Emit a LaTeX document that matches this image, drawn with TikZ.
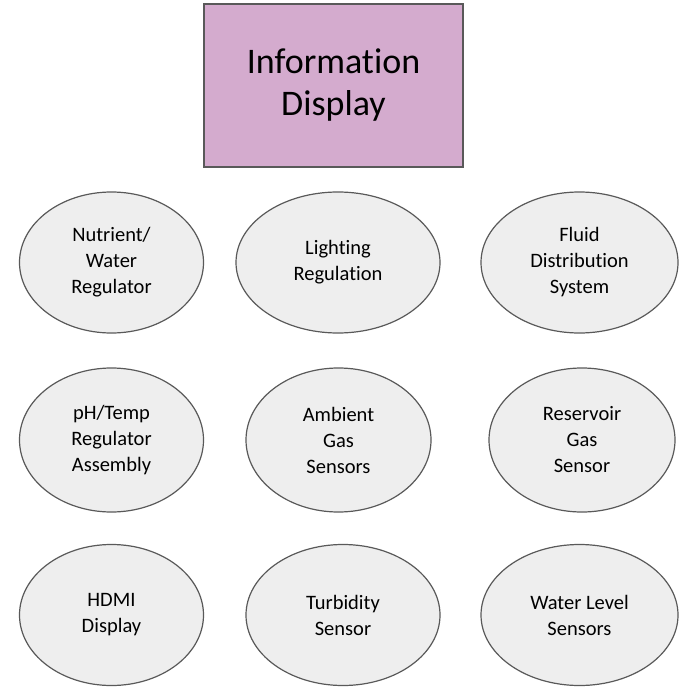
\documentclass[tikz,border=0pt]{standalone}
\usepackage{fontspec}
\setmainfont{Carlito}[Ligatures=NoCommon]
\usepackage{tikz}
\usetikzlibrary{shapes.geometric,positioning}
\definecolor{boxpink}{HTML}{D4ABCE}
\definecolor{unitgray}{HTML}{EEEEEE}
\definecolor{edgegray}{HTML}{595959}

\begin{document}
\begin{tikzpicture}[
  x=1pt, y=-1pt,
  titlebox/.style={draw=edgegray, fill=boxpink, line width=1.3pt,
      align=center, inner sep=0pt,
      minimum width=259pt, minimum height=163pt,
      font=\fontsize{36}{42}\selectfont},
  unit/.style={ellipse, draw=edgegray, fill=unitgray, line width=1.2pt,
      align=center, inner sep=0pt, minimum height=141pt,
      font=\fontsize{20.5}{26}\selectfont}
]
\useasboundingbox (0,0) rectangle (679,687);
\node[titlebox] (display) at (333.5,85.5) {Information\\Display};
% first row
\node[unit, minimum width=184pt] (nutrient) at (111.5,262.5)
  {Nutrient/\\Water\\Regulator};
\node[unit, minimum width=204pt] (lighting) at (338,262.5)
  {Lighting\\Regulation};
\node[unit, minimum width=197pt] (fluid) at (579.5,262.5)
  {Fluid\\Distribution\\System};
% second row
\node[unit, minimum width=184pt, minimum height=144pt] (phtemp) at (111.5,440)
  {pH/Temp\\Regulator\\Assembly};
\node[unit, minimum width=185pt, minimum height=144pt] (ambient) at (338.5,440)
  {Ambient\\Gas\\Sensors};
\node[unit, minimum width=186pt, minimum height=144pt] (reservoir) at (582,440)
  {Reservoir\\Gas\\Sensor};
% third row
\node[unit, minimum width=184pt] (hdmi) at (111.5,615)
  {HDMI\\Display};
\node[unit, minimum width=194pt] (turbidity) at (343,615)
  {Turbidity\\Sensor};
\node[unit, minimum width=197pt] (level) at (579.5,615)
  {Water Level\\Sensors};
\end{tikzpicture}
\end{document}
